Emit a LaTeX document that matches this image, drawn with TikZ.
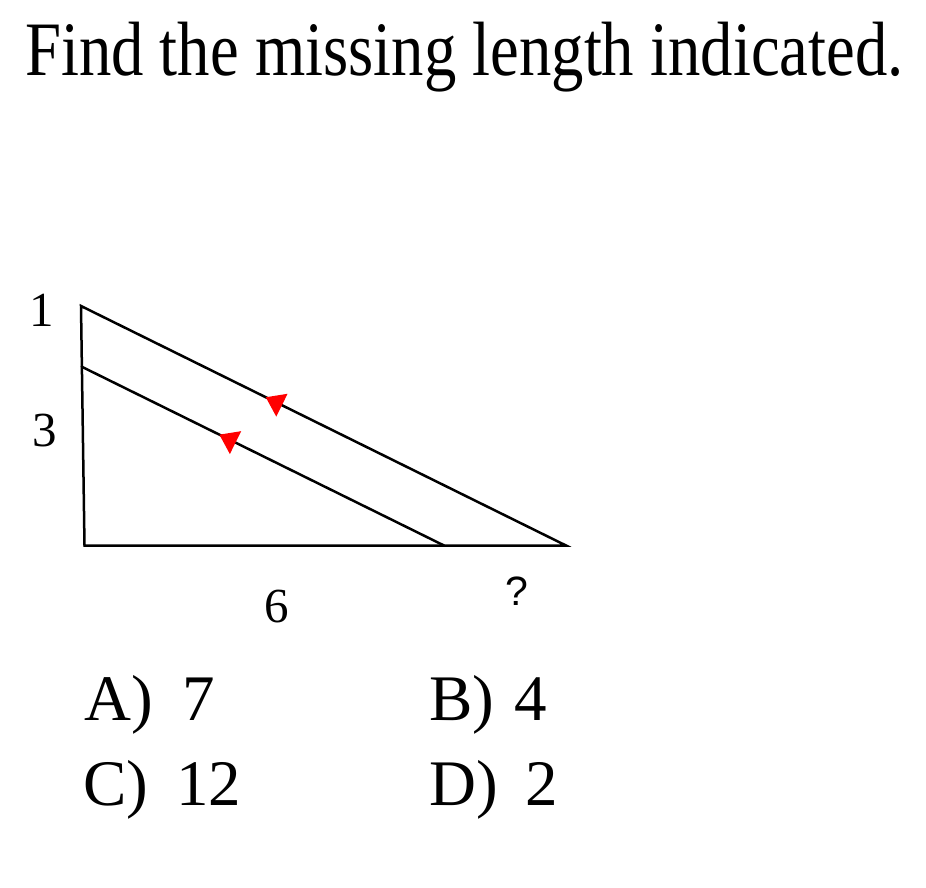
\documentclass[tikz,border=0pt]{standalone}
\usepackage{fontspec}
\setmainfont{Liberation Serif}
\newfontfamily\qsans{Liberation Sans}
\usetikzlibrary{calc}
\definecolor{markred}{RGB}{255,0,0}
\tikzset{
  edge/.style={line width=2.5pt, line cap=round, line join=miter},
  lbl/.style={inner sep=0pt, anchor=base, font=\fontsize{49}{49}\selectfont},
  ans/.style={inner sep=0pt, anchor=base west, font=\fontsize{65}{65}\selectfont},
  ttl/.style={inner sep=0pt, anchor=base west, font=\fontsize{77}{77}\selectfont, xscale=0.84},
  parmark/.style={fill=markred, draw=none}
}
\begin{document}
\begin{tikzpicture}[x=1pt,y=-1pt]
\useasboundingbox (0,0) rectangle (926,888);
% title
\node[ttl] (title) at (25,76) {Find the missing length indicated.};
% vertices
\coordinate (A) at (81,306);
\coordinate (B) at (84.5,545.5);
\coordinate (C) at (566,545.5);
\coordinate (D) at (81.7,366.7);
\coordinate (E) at (444,545.5);
% sides
\draw[edge] (A) -- (B) -- (C) -- cycle;
\draw[edge] (D) -- (E);
% parallel marks
\coordinate (t1) at ($(A)!0.381!(C)$);
\coordinate (m1) at ($(t1)!18pt!(C)$);
\fill[parmark] (t1) -- ($(m1)!12.75pt!90:(C)$) -- ($(m1)!12.75pt!-90:(C)$) -- cycle;
\coordinate (t2) at ($(D)!0.38!(E)$);
\coordinate (m2) at ($(t2)!18pt!(E)$);
\fill[parmark] (t2) -- ($(m2)!12.75pt!90:(E)$) -- ($(m2)!12.75pt!-90:(E)$) -- cycle;
% labels
\node[lbl] (l1) at (42,326) {1};
\node[lbl] (l3) at (44.5,446) {3};
\node[lbl] (l6) at (276.5,622) {6};
\node[lbl, font=\qsans\fontsize{41}{41}\selectfont] (lq) at (516.5,605) {?};
% answers
\node[ans] (aA) at (84,720) {A)};
\node[ans] (a7) at (182,720) {7};
\node[ans] (aB) at (429,720) {B)};
\node[ans] (a4) at (514,720) {4};
\node[ans] (aC) at (83,805) {C)};
\node[ans] (a12) at (176,805) {12};
\node[ans] (aD) at (429,805) {D)};
\node[ans] (a2) at (525,805) {2};
\end{tikzpicture}
\end{document}
